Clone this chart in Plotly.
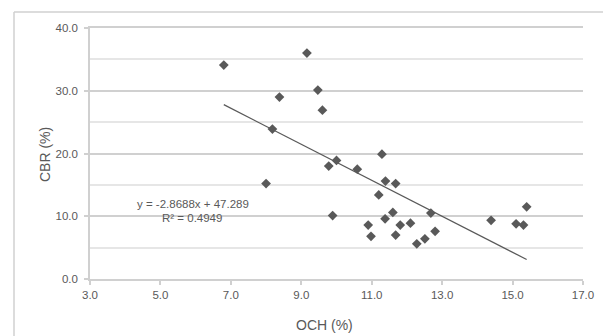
import plotly.graph_objects as go

# Data
och = [6.8, 9.16, 8.38, 9.47, 9.60, 8.18, 11.29, 9.78, 10.0, 10.59,
       11.39, 11.68, 11.2, 9.89, 11.6, 11.38, 12.68, 10.9, 11.81, 12.1,
       10.98, 11.68, 12.8, 12.28, 12.51, 8.0, 14.39, 15.1, 15.31, 15.4]
cbr = [34.1, 36.0, 29.0, 30.1, 26.9, 23.9, 19.9, 18.0, 18.9, 17.5,
       15.6, 15.2, 13.4, 10.1, 10.6, 9.6, 10.5, 8.6, 8.6, 8.9,
       6.8, 7.0, 7.6, 5.6, 6.4, 15.2, 9.35, 8.8, 8.6, 11.5]
slope = -2.8688
intercept = 47.289
r2 = 0.4949

x_range = [3.0, 17.0]
x_step = 2.0
y_range = [0.0, 40.0]
y_step = 10.0

grey = "#595959"
line_grey = "#d0d0d0"
font = "Liberation Sans, Arial, sans-serif"

xmin, xmax = min(och), max(och)
trend_x = [xmin, xmax]
trend_y = [slope * v + intercept for v in trend_x]

fig = go.Figure()
fig.add_trace(go.Scatter(
    x=trend_x, y=trend_y, mode="lines",
    line=dict(color=grey, width=1.25), hoverinfo="skip"))
fig.add_trace(go.Scatter(
    x=och, y=cbr, mode="markers",
    marker=dict(symbol="diamond", size=7.5, color=grey,
                line=dict(width=0))))

# page body has an 8px margin; compensate so the plot sits where the reference does
OFF = 8
W, H = 611 - OFF, 336 - OFF
ml, mt = 90 - OFF, 28 - OFF
mr = W - (583 - OFF)
mb = H - (279 - OFF)
pw, ph = W - ml - mr, H - mt - mb

def px(xp):
    return (xp - OFF - ml) / pw

def py(yp):
    return (H - mb - (yp - OFF)) / ph

border = dict(color=line_grey, width=1.5)

fig.update_layout(
    width=W, height=H,
    margin=dict(l=ml, r=mr, t=mt, b=mb, pad=0),
    paper_bgcolor="white", plot_bgcolor="white",
    showlegend=False,
    font=dict(family=font, color=grey, size=11.5),
    xaxis=dict(
        range=x_range, tickmode="linear", tick0=x_range[0], dtick=x_step,
        tickformat=".1f",
        showgrid=False, zeroline=False,
        showline=True, mirror=True, linecolor=line_grey, linewidth=1.5,
        ticks="outside", ticklen=4, tickcolor=line_grey, tickwidth=1.5,
        tickfont=dict(size=11.5, color=grey, family=font),
    ),
    yaxis=dict(
        range=y_range, tickmode="linear",
        tick0=y_range[0], dtick=y_step,
        tickformat=".1f",
        showgrid=True, gridcolor=line_grey, gridwidth=1.5,
        zeroline=False,
        showline=True, linecolor=line_grey, linewidth=1.5,
        ticks="outside", ticklen=4, tickcolor=line_grey, tickwidth=1.5,
        ticklabelstandoff=4,
        tickfont=dict(size=11.5, color=grey, family=font),
        minor=dict(tick0=y_step / 2, dtick=y_step, showgrid=True,
                   gridcolor="#e6e6e6", gridwidth=1.5, ticks=""),
    ),
    shapes=[dict(type="line", xref="paper", yref="paper",
                 x0=px(14), x1=px(14), y0=py(340), y1=py(12), line=border),
            dict(type="line", xref="paper", yref="paper",
                 x0=px(14), x1=px(608), y0=py(12), y1=py(12), line=border),
            dict(type="line", xref="paper", yref="paper",
                 x0=px(608), x1=px(608), y0=py(340), y1=py(12), line=border)],
    annotations=[
        dict(text="OCH (%)", xref="paper", yref="paper",
             x=px(324), y=py(325), showarrow=False,
             xanchor="center", yanchor="middle",
             font=dict(size=14, color=grey, family=font)),
        dict(text="CBR (%)", xref="paper", yref="paper",
             x=px(45), y=py(155), showarrow=False, textangle=-90,
             xanchor="center", yanchor="middle",
             font=dict(size=14, color=grey, family=font)),
        dict(text=f"y = {slope}x + {intercept}", xref="paper", yref="paper",
             x=px(192.5), y=py(203.5), showarrow=False,
             xanchor="center", yanchor="middle",
             font=dict(size=11.5, color=grey, family=font)),
        dict(text=f"R² = {r2}", xref="paper", yref="paper",
             x=px(192), y=py(217.5), showarrow=False,
             xanchor="center", yanchor="middle",
             font=dict(size=11.5, color=grey, family=font)),
    ],
)

fig.write_html("out.html")
